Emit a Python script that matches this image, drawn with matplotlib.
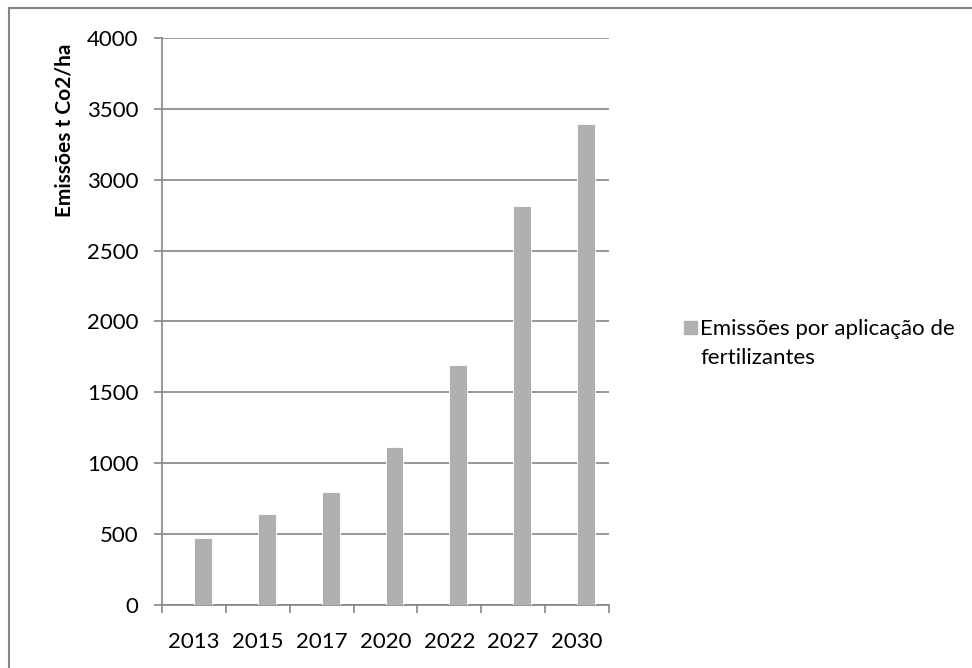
import numpy as np
import matplotlib
matplotlib.use("Agg")
from matplotlib import pyplot as plt
from matplotlib.patches import Rectangle
from matplotlib.lines import Line2D

plt.rcParams['font.family'] = ['Lato', 'DejaVu Sans']

# dados
anos = ['2013', '2015', '2017', '2020', '2022', '2027', '2030']
emissoes = [470, 640, 795, 1115, 1695, 2815, 3395]
legenda = ['Emissões por aplicação de', 'fertilizantes']
titulo_y = 'Emissões t Co2/ha'
y_ticks = np.arange(0, 4001, 500)

W, H = 972, 668
fs = 16
fig = plt.figure(figsize=(W / 100, H / 100), dpi=100)
ax = fig.add_axes([162 / W, 1 - 605 / H, (609 - 162) / W, (605 - 38) / H])

cor_barra = '#B0B0B0'
cor_linha = '#868686'

x = np.arange(len(anos))
largura = 0.28
ax.bar(x + largura / 2, emissoes, width=largura, color=cor_barra,
       edgecolor='white', linewidth=0.6, zorder=3)

ax.set_xlim(-0.5, len(anos) - 0.5)
ax.set_ylim(0, 4000)
ax.set_yticks(y_ticks)
ax.set_yticklabels([str(v) for v in y_ticks], fontsize=fs)
ax.yaxis.grid(True, color=cor_linha, linewidth=1.2, zorder=0)

# ticks nas fronteiras das categorias, rótulos no centro
ax.set_xticks(np.arange(-0.5, len(anos)), minor=False)
ax.set_xticklabels([])
ax.set_xticks(x, minor=True)
ax.set_xticklabels(anos, minor=True, fontsize=fs)
ax.tick_params(axis='x', which='major', length=6, width=1.2, color=cor_linha, direction='out')
ax.tick_params(axis='x', which='minor', length=0, pad=19.5)
ax.tick_params(axis='y', length=6, width=1.2, color=cor_linha, pad=11)

for lado in ['top', 'right']:
    ax.spines[lado].set_visible(False)
for lado in ['left', 'bottom']:
    ax.spines[lado].set_color(cor_linha)
    ax.spines[lado].set_linewidth(1.2)

fig.text(64 / W, 1 - 130 / H, titulo_y, rotation=90, ha='center', va='center',
         fontsize=15, fontweight='bold')

# legenda
fig.patches.append(Rectangle((684 / W, 1 - 334 / H), 13 / W, 13 / H,
                             transform=fig.transFigure, color=cor_barra))
fig.text(700 / W, 1 - 335 / H, legenda[0], ha='left', va='baseline', fontsize=fs)
fig.text(700 / W, 1 - 364 / H, legenda[1], ha='left', va='baseline', fontsize=fs)

# moldura do gráfico
fig.lines.append(Line2D([9 / W, 9 / W], [0, 1 - 8 / H], transform=fig.transFigure,
                        color=cor_linha, linewidth=1.5))
fig.lines.append(Line2D([9 / W, 1], [1 - 8 / H, 1 - 8 / H], transform=fig.transFigure,
                        color=cor_linha, linewidth=1.5))

fig.savefig('out.png', dpi=100)
